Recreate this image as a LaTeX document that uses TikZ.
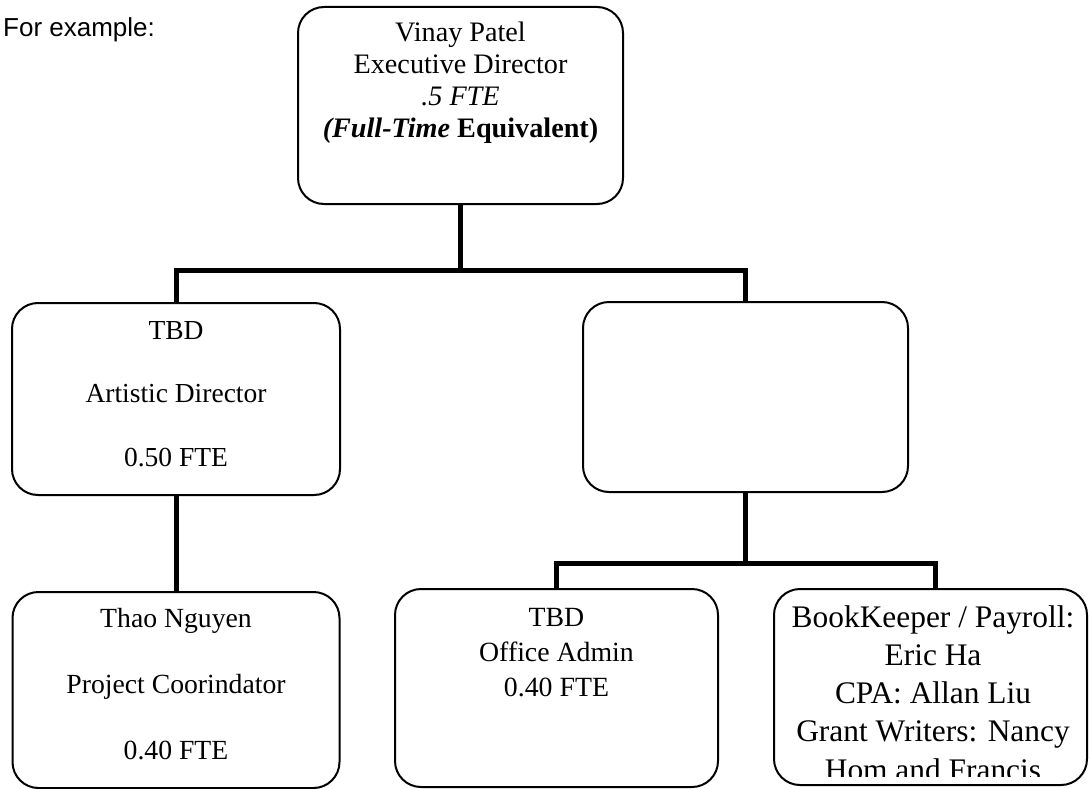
\documentclass[tikz,border=0pt]{standalone}
\usepackage{fontspec}
\setmainfont{Liberation Serif}
\newfontfamily\arialfont{Liberation Sans}
\begin{document}
\begin{tikzpicture}[x=1pt,y=-1pt,
  box/.style={draw=black, line width=2pt, rounded corners=26pt, fill=white, inner sep=0pt},
  conn/.style={draw=black, line width=5pt, line join=miter},
  txt/.style={inner sep=0pt, anchor=base}]
\useasboundingbox (0,0) rectangle (1089,789);

\node[anchor=base west, inner sep=0pt, font=\arialfont\fontsize{26}{30}\selectfont] (ex) at (3,37) {For example:};

% boxes
\node[box, minimum width=325pt, minimum height=197pt] (top) at (460.5,105.5) {};
\node[box, minimum width=328pt, minimum height=192pt] (lm) at (176,399) {};
\node[box, minimum width=325pt, minimum height=190pt] (rm) at (745.5,397) {};
\node[box, minimum width=327pt, minimum height=196pt] (lb) at (176,690) {};
\node[box, minimum width=323pt, minimum height=198pt] (mb) at (556.5,688) {};
\node[box, minimum width=313pt, minimum height=196pt] (rb) at (930.5,687) {};

% texts
\node[txt] (toptxt) at (460.5,42) {\fontsize{28.2}{31.7}\selectfont\begin{tabular}[t]{@{}c@{}}Vinay Patel\\ Executive Director\\ \textit{.5 FTE}\\ \textbf{\textit{(Full-Time}} \textbf{Equivalent)}\end{tabular}};
\node[txt] (lmtxt) at (176,339) {\fontsize{27.5}{31.75}\selectfont\begin{tabular}[t]{@{}c@{}}TBD\\ \\ Artistic Director\\ \\ 0.50 FTE\end{tabular}};
\node[txt] (lbtxt) at (176,627) {\fontsize{27.7}{33}\selectfont\begin{tabular}[t]{@{}c@{}}Thao Nguyen\\ \\ Project Coorindator\\ \\ 0.40 FTE\end{tabular}};
\node[txt] (mbtxt) at (556.5,626) {\fontsize{27.8}{35}\selectfont\begin{tabular}[t]{@{}c@{}}TBD\\ Office Admin\\ 0.40 FTE\end{tabular}};
\begin{scope}
\clip (775,591) rectangle (1087,776);
\node[txt] (rbtxt) at (933,627) {\fontsize{31.4}{38.3}\selectfont\begin{tabular}[t]{@{}c@{}}BookKeeper / Payroll:\\ Eric Ha\\ CPA: Allan Liu\\ Grant Writers: Nancy\\ Hom and Francis\end{tabular}};
\end{scope}

% connectors
\coordinate (b1) at (460.5,270);
\coordinate (b2) at (745.5,563);
\draw[conn] (top.south) -- (b1);
\draw[conn] (lm.north) |- (b1) -| (rm.north);
\draw[conn] (lm.south) -- (lb.north);
\draw[conn] (rm.south) -- (b2);
\draw[conn] (mb.north) |- (b2) -| ([xshift=5pt]rb.north);
\end{tikzpicture}
\end{document}
